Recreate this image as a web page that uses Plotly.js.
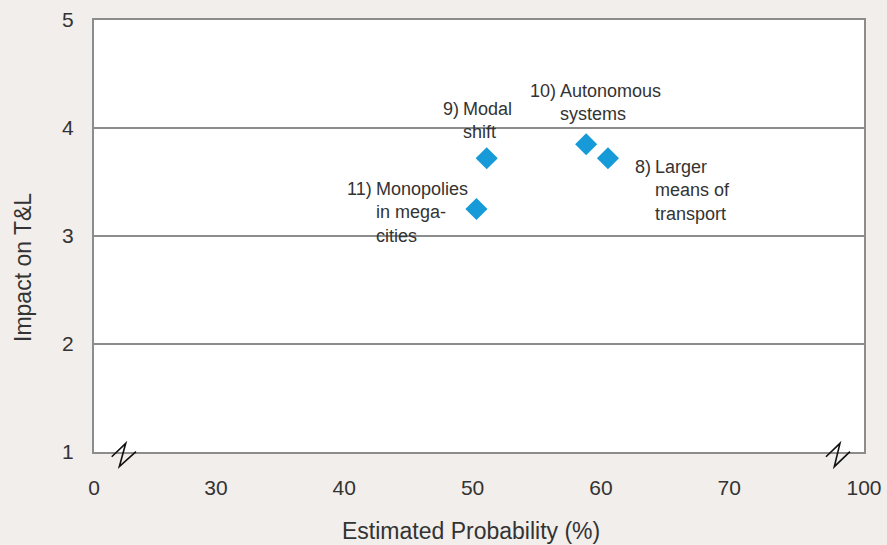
<!DOCTYPE html>
<html>
<head>
<meta charset="utf-8">
<script src="https://cdn.plot.ly/plotly-3.0.1.min.js"></script>
<style>
html,body{margin:0;padding:0;background:#f2eeeb;}
#chart{width:887px;height:545px;}
</style>
</head>
<body>
<div id="chart"></div>
<script>
// ---- data ----
var probability = [51.1, 50.3, 58.85, 60.55];
var impact = [3.72, 3.25, 3.85, 3.72];
var labelNumbers = ["9)", "11)", "10)", "8)"];
var labelTexts = ["Modal<br>shift", "Monopolies<br>in mega-<br>cities", "Autonomous<br>systems", "Larger<br>means of<br>transport"];
var xTickVals = [20.5, 30, 40, 50, 60, 70, 80.5];
var xTickText = ["0", "30", "40", "50", "60", "70", "100"];
var yTickVals = [1, 2, 3, 4, 5];

// ---- label placement (pixel offsets from each point) ----
var bodyShift = [[-25.7, 37.7], [-102.7, -3.3], [-28, 41.9], [45, -32.2]];

var FONT = "Liberation Sans, Arial, sans-serif";
var TXT = "#333333";
var GRAY = "#8c8c8c";
var LABEL_SIZE = 18;
var lineH = 1.3 * LABEL_SIZE;

var annotations = [];
for (var i = 0; i < probability.length; i++) {
  var nLines = labelTexts[i].split("<br>").length;
  annotations.push({
    x: probability[i], y: impact[i], xref: "x", yref: "y",
    text: labelTexts[i], showarrow: false, align: "left",
    xanchor: "left", yanchor: "middle",
    xshift: bodyShift[i][0], yshift: bodyShift[i][1],
    font: {family: FONT, size: LABEL_SIZE, color: TXT}
  });
  annotations.push({
    x: probability[i], y: impact[i], xref: "x", yref: "y",
    text: labelNumbers[i], showarrow: false, align: "right",
    xanchor: "right", yanchor: "middle",
    xshift: bodyShift[i][0], yshift: bodyShift[i][1] + (nLines - 1) / 2 * lineH,
    font: {family: FONT, size: LABEL_SIZE, color: TXT}
  });
}
annotations.push({
  text: "Estimated Probability (%)", xref: "paper", yref: "paper",
  x: (471 - 94) / 770, y: (452 - 531) / 432,
  xanchor: "center", yanchor: "middle", showarrow: false,
  font: {family: FONT, size: 23, color: TXT}
});
annotations.push({
  text: "Impact on T&L", xref: "paper", yref: "paper",
  x: (22.5 - 94) / 770, y: (452 - 267.5) / 432,
  xanchor: "center", yanchor: "middle", showarrow: false,
  textangle: -90,
  font: {family: FONT, size: 23, color: TXT}
});

var breakLeft = "M 0.0230,-0.0109 L 0.0412,0.0201 L 0.0329,-0.0340 L 0.0545,0.0007";
var breakRight = "M 0.9506,-0.0109 L 0.9688,0.0201 L 0.9614,-0.0340 L 0.9818,0.0007";

var trace = {
  x: probability, y: impact, type: "scatter", mode: "markers",
  marker: {symbol: "diamond", size: 17, color: "#169bd8", line: {width: 0}},
  hoverinfo: "x+y", cliponaxis: false
};

var layout = {
  width: 887, height: 545,
  margin: {l: 94, r: 23, t: 20, b: 93, pad: 0},
  paper_bgcolor: "#f2eeeb", plot_bgcolor: "#ffffff",
  showlegend: false,
  font: {family: FONT, color: TXT},
  xaxis: {
    range: [20.5, 80.5], tickmode: "array", tickvals: xTickVals, ticktext: xTickText,
    showgrid: false, zeroline: false, showline: true, linecolor: GRAY, linewidth: 2,
    mirror: true, ticks: "", ticklabelstandoff: 16,
    tickfont: {family: FONT, size: 21, color: TXT}, fixedrange: true
  },
  yaxis: {
    range: [1, 5], tickmode: "array", tickvals: yTickVals,
    showgrid: true, gridcolor: GRAY, gridwidth: 1.5, zeroline: false,
    showline: true, linecolor: GRAY, linewidth: 2, mirror: true,
    ticks: "", ticklabelstandoff: 14,
    tickfont: {family: FONT, size: 21, color: TXT}, fixedrange: true
  },
  annotations: annotations,
  shapes: [
    {type: "path", xref: "paper", yref: "paper", path: breakLeft, line: {color: "#111111", width: 1.6}},
    {type: "path", xref: "paper", yref: "paper", path: breakRight, line: {color: "#111111", width: 1.6}}
  ]
};

Plotly.newPlot("chart", [trace], layout, {displayModeBar: false, staticPlot: true});
</script>
</body>
</html>
